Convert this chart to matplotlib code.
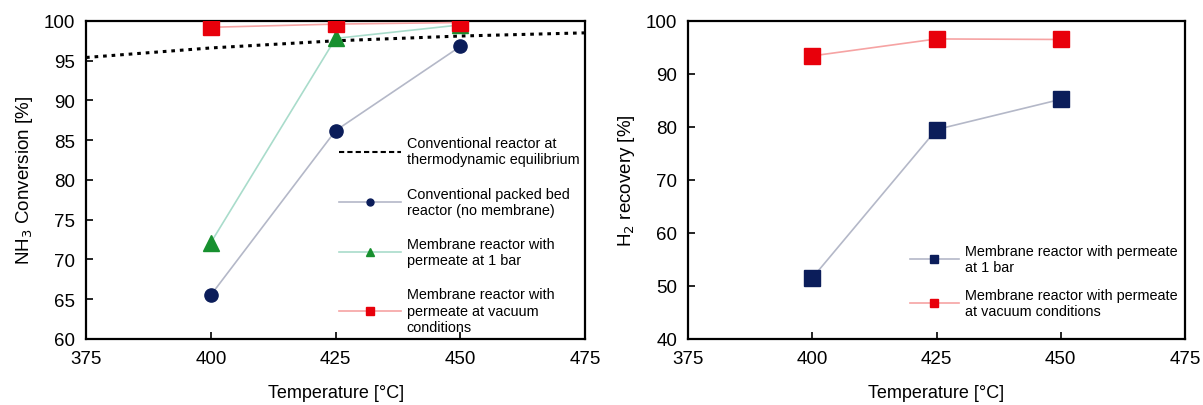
import matplotlib.pyplot as plt
from matplotlib.lines import Line2D

plt.rcParams["font.family"] = ["Liberation Sans", "DejaVu Sans"]

# temperatures [°C]
temps = [400, 425, 450]

# thermodynamic equilibrium curve
eq_temps = [375, 400, 425, 450, 475]
eq_conv = [95.4, 96.6, 97.5, 98.1, 98.5]

# NH3 conversion [%]
conv_packed = [65.5, 86.2, 96.8]
conv_mr_1bar = [72.1, 97.8, 99.5]
conv_mr_vac = [99.2, 99.6, 99.8]

# H2 recovery [%]
rec_mr_1bar = [51.5, 79.5, 85.2]
rec_mr_vac = [93.4, 96.6, 96.5]

xticks = [375, 400, 425, 450, 475]

navy = "#0b1d5a"
green = "#17902f"
red = "#e8000b"
navy_line = "#b4b8c8"
green_line = "#a9dccb"
red_line = "#f6a3a3"

fig = plt.figure(figsize=(12.03, 4.06), dpi=100)
ax1 = fig.add_axes([0.0715, 0.163, 0.415, 0.783])
ax2 = fig.add_axes([0.572, 0.163, 0.413, 0.783])

# left panel
ax1.plot(eq_temps, eq_conv, color="black", ls=(0, (1.2, 1.6)), lw=2.2, zorder=2)
ax1.plot(temps, conv_packed, color=navy_line, lw=1.2, zorder=3)
ax1.plot(temps, conv_packed, ls="none", marker="o", ms=9.5, color=navy, zorder=4)
ax1.plot(temps, conv_mr_1bar, color=green_line, lw=1.2, zorder=3)
ax1.plot(temps, conv_mr_1bar, ls="none", marker="^", ms=11, color=green, zorder=4)
ax1.plot(temps, conv_mr_vac, color=red_line, lw=1.2, zorder=3)
ax1.plot(temps, conv_mr_vac, ls="none", marker="s", ms=12, color=red, zorder=5)

handles1 = [
    Line2D([], [], color="black", ls=(0, (2.5, 1.5)), lw=1.5),
    Line2D([], [], color=navy_line, lw=1.2, marker="o", ms=5,
           mfc=navy, mec=navy),
    Line2D([], [], color=green_line, lw=1.2, marker="^", ms=6,
           mfc=green, mec=green),
    Line2D([], [], color=red_line, lw=1.2, marker="s", ms=6,
           mfc=red, mec=red),
]
labels1 = [
    "Conventional reactor at\nthermodynamic equilibrium",
    "Conventional packed bed\nreactor (no membrane)",
    "Membrane reactor with\npermeate at 1 bar",
    "Membrane reactor with\npermeate at vacuum\nconditions",
]
ax1.legend(handles1, labels1, loc="lower left", bbox_to_anchor=(0.48, -0.025),
           frameon=False, fontsize=10.4, handlelength=4.3, handletextpad=0.4,
           labelspacing=1.4)

ax1.set_xlim(375, 475)
ax1.set_ylim(60, 100)
ax1.set_yticks(range(60, 101, 5))
ax1.set_ylabel("NH$_3$ Conversion [%]", fontsize=13.5, labelpad=6)

# right panel
ax2.plot(temps, rec_mr_1bar, color=navy_line, lw=1.2, zorder=3)
ax2.plot(temps, rec_mr_1bar, ls="none", marker="s", ms=11.5, color=navy, zorder=4)
ax2.plot(temps, rec_mr_vac, color=red_line, lw=1.2, zorder=3)
ax2.plot(temps, rec_mr_vac, ls="none", marker="s", ms=11.5, color=red, zorder=4)

handles2 = [
    Line2D([], [], color=navy_line, lw=1.2, marker="s", ms=6,
           mfc=navy, mec=navy),
    Line2D([], [], color=red_line, lw=1.2, marker="s", ms=6,
           mfc=red, mec=red),
]
labels2 = [
    "Membrane reactor with permeate\nat 1 bar",
    "Membrane reactor with permeate\nat vacuum conditions",
]
ax2.legend(handles2, labels2, loc="lower left", bbox_to_anchor=(0.42, 0.025),
           frameon=False, fontsize=10.4, handlelength=3.4, handletextpad=0.4,
           labelspacing=0.95)

ax2.set_xlim(375, 475)
ax2.set_ylim(40, 100)
ax2.set_yticks(range(40, 101, 10))
ax2.set_ylabel("H$_2$ recovery [%]", fontsize=13.5, labelpad=6)

for ax in (ax1, ax2):
    ax.set_xticks(xticks)
    ax.set_xlabel("Temperature [°C]", fontsize=13, labelpad=12)
    ax.tick_params(direction="in", length=5, width=1.2, labelsize=13.5,
                   pad=8, colors="black")
    for s in ax.spines.values():
        s.set_linewidth(1.6)

fig.savefig("out.png", dpi=100)
